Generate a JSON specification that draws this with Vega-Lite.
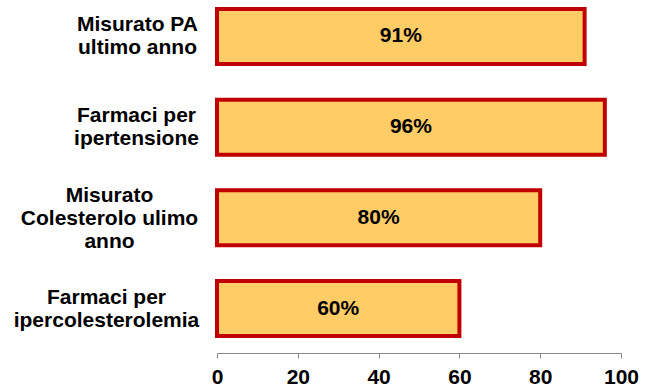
{
  "$schema": "https://vega.github.io/schema/vega-lite/v6.json",
  "width": 404,
  "height": 345,
  "autosize": {"type": "none"},
  "padding": {"left": 217, "top": 0, "right": 25, "bottom": 45},
  "background": "white",
  "config": {
    "view": {"stroke": null},
    "font": "Liberation Sans"
  },
  "data": {
    "values": [
      {"cat": "Misurato PA|ultimo anno", "value": 91},
      {"cat": "Farmaci per|ipertensione", "value": 96},
      {"cat": "Misurato|Colesterolo ulimo|anno", "value": 80},
      {"cat": "Farmaci per|ipercolesterolemia", "value": 60}
    ]
  },
  "transform": [
    {"calculate": "datum.value / 2", "as": "mid"},
    {"calculate": "datum.value + '%'", "as": "lbl"}
  ],
  "encoding": {
    "y": {
      "field": "cat",
      "type": "nominal",
      "sort": null,
      "scale": {"paddingInner": 0.394, "paddingOuter": 0.099},
      "axis": {
        "title": null,
        "domain": false,
        "ticks": false,
        "tickSize": 0,
        "labelPadding": {
          "condition": [
            {"test": "datum.value === 'Misurato PA|ultimo anno'", "value": 80},
            {"test": "datum.value === 'Farmaci per|ipertensione'", "value": 81},
            {"test": "datum.value === 'Misurato|Colesterolo ulimo|anno'", "value": 108}
          ],
          "value": 111
        },
        "labelOffset": {
          "condition": {"test": "datum.value === 'Misurato|Colesterolo ulimo|anno'", "value": -22},
          "value": -11
        },
        "labelAlign": "center",
        "labelBaseline": "middle",
        "labelFont": "Liberation Sans",
        "labelFontSize": 21,
        "labelFontWeight": "bold",
        "labelColor": "black",
        "labelLineHeight": 23,
        "labelLimit": 400,
        "labelExpr": "split(datum.label, '|')"
      }
    }
  },
  "layer": [
    {
      "mark": {"type": "bar", "fill": "#FFCC66", "stroke": "#C00000", "strokeWidth": 4},
      "encoding": {
        "x": {
          "field": "value",
          "type": "quantitative",
          "scale": {"domain": [0, 100], "nice": false},
          "axis": {
            "title": null,
            "values": [0, 20, 40, 60, 80, 100],
            "grid": false,
            "offset": 8,
            "domainColor": "#888888",
            "tickColor": "#888888",
            "tickSize": 5,
            "labelPadding": 8,
            "labelFont": "Liberation Sans",
            "labelFontSize": 21,
            "labelFontWeight": "bold",
            "labelColor": "black",
            "labelFlush": false
          }
        }
      }
    },
    {
      "mark": {"type": "text", "font": "Liberation Sans", "fontSize": 21, "fontWeight": "bold", "color": "black", "baseline": "middle", "align": "center"},
      "encoding": {
        "x": {"field": "mid", "type": "quantitative"},
        "text": {"field": "lbl", "type": "nominal"}
      }
    }
  ]
}
